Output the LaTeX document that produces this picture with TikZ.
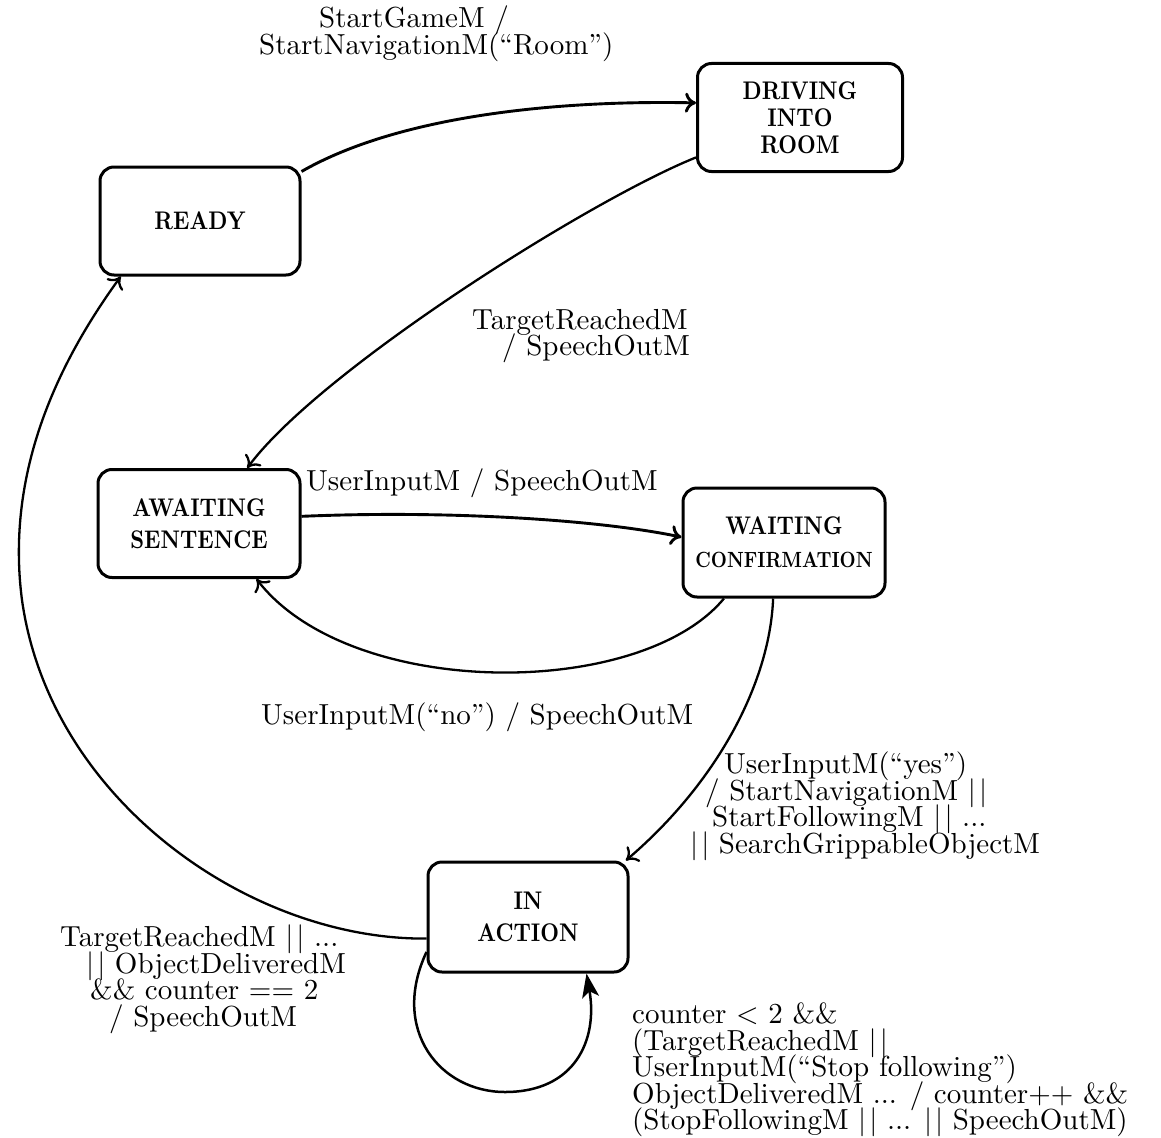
\documentclass[tikz,border=0pt]{standalone}
\usepackage{fontspec}
\usetikzlibrary{arrows.meta}

% Latin Modern for the labels, a narrowed bold for the state names
\newfontfamily\lblfam{lmroman10-regular.otf}[Ligatures=TeX]
\newfontfamily\boxfam{lmroman10-bold.otf}[FakeStretch=0.85, Ligatures=TeX]

% label font: large and set tight
\newcommand{\lblfont}{\lblfam\fontsize{29}{26.5}\selectfont
  \lineskiplimit-50pt\relax\lineskip0pt\relax}
\newcommand{\orbar}{\textbar\kern3pt\textbar}

% State machine of the robot game: one unit is one point, y grows downwards
\tikzset{
  x=1pt, y=-1pt,
  state/.style={draw, line width=3pt, rounded corners=14pt,
    minimum width=200pt, minimum height=108pt, align=center,
    inner sep=0pt, font=\boxfam\fontsize{25.5}{32}\selectfont},
  trans/.style={line width=2.9pt,
    -{Computer Modern Rightarrow[length=11pt,width=20pt]}},
  thintrans/.style={trans, line width=2.3pt},
  loopedge/.style={line width=2.5pt,
    -{Stealth[length=24pt,width=17pt,inset=6pt]}},
  lbl/.style={inner sep=0pt, font=\lblfont}
}

\begin{document}
\begin{tikzpicture}
\useasboundingbox (0,0) rectangle (1161,1137);

% states
\node[state] (ready) at (200,221) {READY};
\node[state, minimum width=205pt, font=\boxfam\fontsize{25.5}{27}\selectfont]
  (drive) at (800,117.5) {DRIVING\\INTO\\ROOM};
\node[state, minimum width=202pt] (await) at (199,523.5) {AWAITING\\SENTENCE};
\node[state, minimum width=202pt, minimum height=109pt,
  font=\boxfam\fontsize{25.5}{33}\selectfont]
  (wait) at (784,542.5) {WAITING\\{\fontsize{22}{33}\selectfont CONFIRMATION}};
\node[state, minimum height=110pt] (act) at (528,917) {IN\\ACTION};

% transitions
\draw[trans] (ready.26) .. controls (400,115) and (560,100) .. (drive.172);
\draw[thintrans] (drive.201) .. controls (590,200) and (320,370) .. (await.49);
\draw[trans] (await.4) .. controls (450,510) and (600,520) .. (wait.177);
\draw[thintrans] (wait.223) .. controls (640,700) and (350,700) .. (await.316);
\draw[thintrans] (wait.259) .. controls (770,680) and (720,780) .. (act.30);
\draw[thintrans] (act.192) .. controls (250,940) and (50,800) .. (22,600)
  .. controls (5,470) and (60,360) .. (ready.215);
\draw[loopedge] (act.199) .. controls (390,1030) and (440,1092) .. (505,1092)
  .. controls (575,1092) and (598,1040) .. (act.316);

% transition labels
\node[lbl, align=left, anchor=north west] (l1) at (259,6)
  {\hspace*{60pt}StartGameM /\\StartNavigationM(``Room'')};
\node[lbl, align=left, anchor=north west] (l2) at (472,309)
  {TargetReachedM\\\hspace*{30pt}/ SpeechOutM};
\node[lbl, anchor=west] (l3) at (306,483) {UserInputM / SpeechOutM};
\node[lbl, anchor=west] (l4) at (261,717) {UserInputM(``no'') / SpeechOutM};
\node[lbl, align=left, anchor=north west] (l5) at (690,752)
  {\hspace*{34pt}UserInputM(``yes'')\\
   \hspace*{15pt}/ StartNavigationM \orbar\\
   \hspace*{22pt}StartFollowingM \orbar{} ...\\
   \orbar{} SearchGrippableObjectM};
\node[lbl, align=left, anchor=north west] (l6) at (60,925)
  {TargetReachedM \orbar{} ...\\
   \hspace*{26pt}\orbar{} ObjectDeliveredM\\
   \hspace*{30pt}\&\& counter == 2\\
   \hspace*{49pt}/ SpeechOutM};
\node[lbl, align=left, anchor=north west] (l7) at (632,1003)
  {counter < 2 \&\&\\
   (TargetReachedM \orbar\\
   UserInputM(``Stop following'')\\
   ObjectDeliveredM ... / counter++ \&\&\\
   (StopFollowingM \orbar{} ... \orbar{} SpeechOutM)};
\end{tikzpicture}
\end{document}
